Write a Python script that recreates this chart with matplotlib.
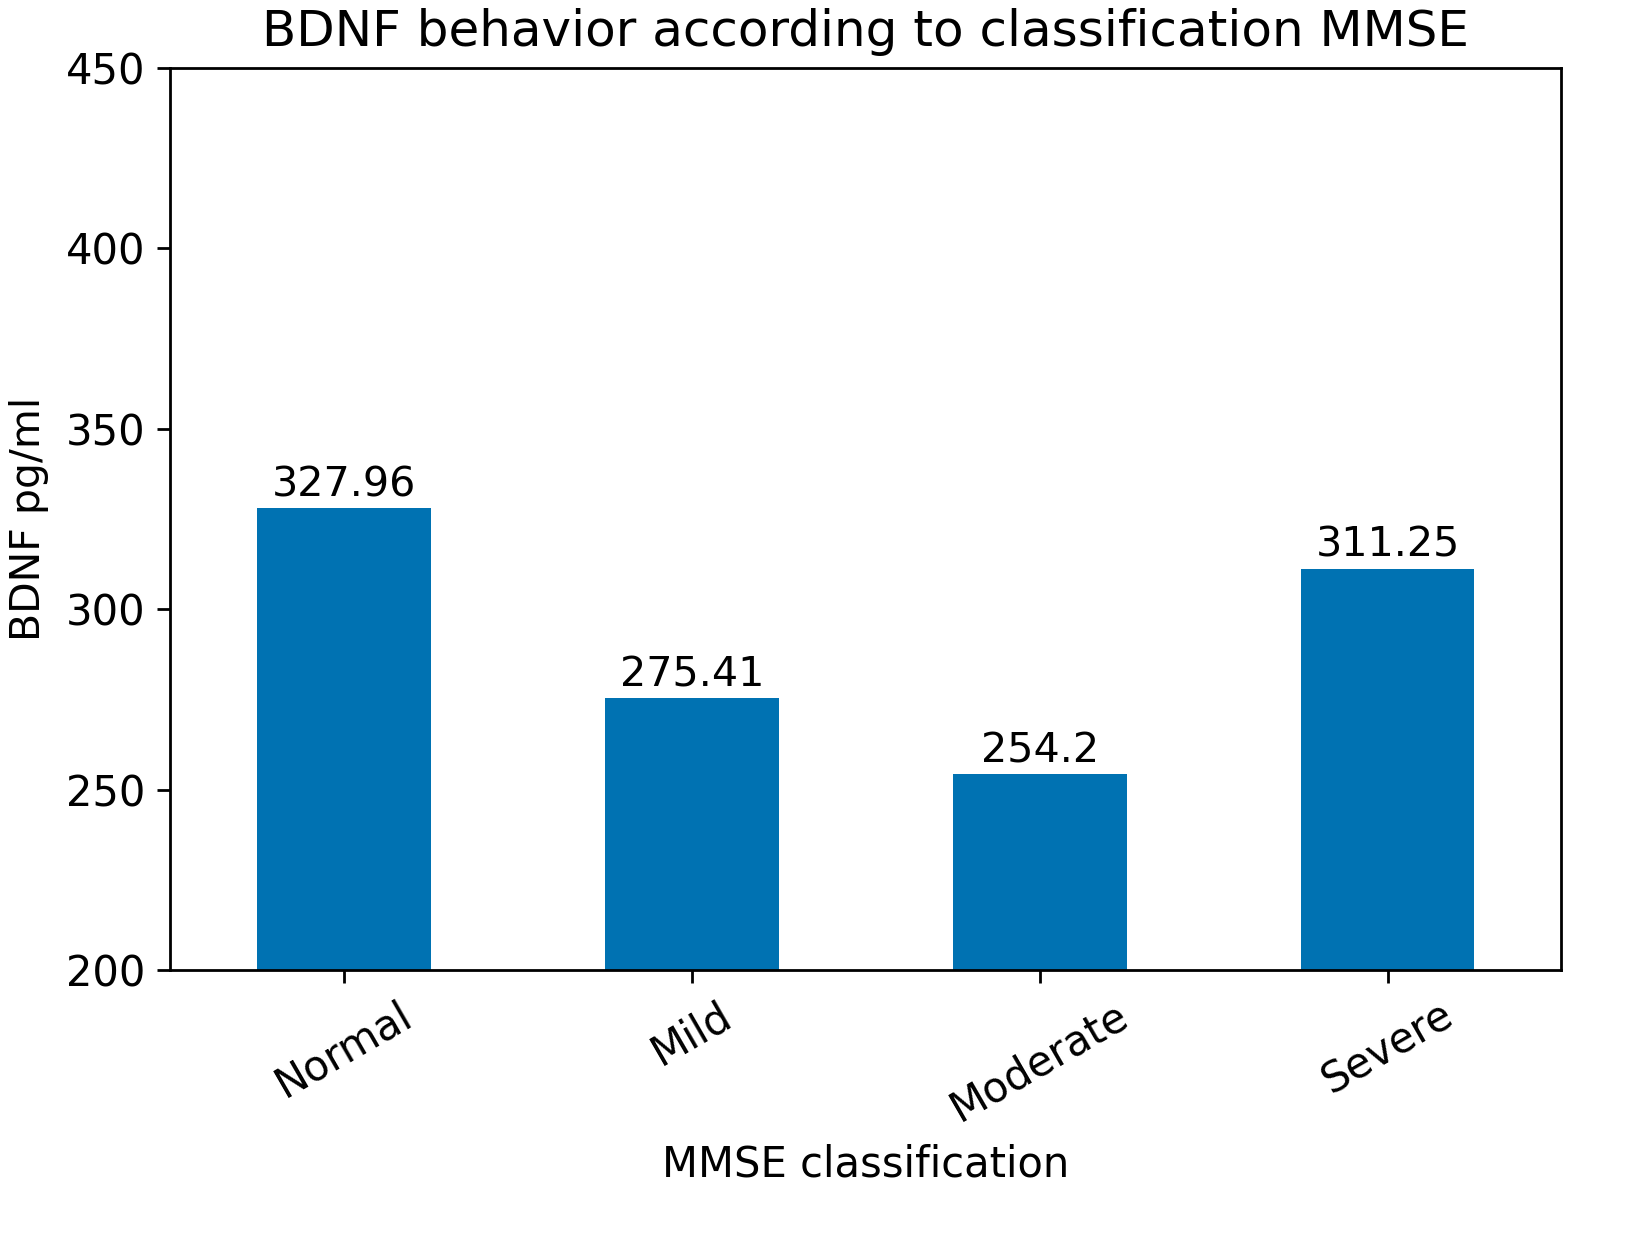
import matplotlib
matplotlib.use("Agg")
import matplotlib.pyplot as plt

categories = ["Normal", "Mild", "Moderate", "Severe"]
values = [327.96, 275.41, 254.2, 311.25]
value_labels = ["327.96", "275.41", "254.2", "311.25"]
yticks = [200, 250, 300, 350, 400, 450]

fig = plt.figure(figsize=(16.35, 12.38), dpi=100)
ax = fig.add_axes([0.104, 0.2165, 0.851, 0.7285])

x = list(range(len(categories)))
bars = ax.bar(x, values, width=0.5, color="#0072B2")
ax.bar_label(bars, labels=value_labels, fontsize=29.7, padding=2)

ax.set_xlim(-0.5, 3.5)
ax.set_ylim(200, 450)
ax.set_yticks(yticks)
ax.set_xticks(x)
ax.set_xticklabels(categories, rotation=30, ha="center")
ax.tick_params(labelsize=30, length=9.5, width=2.0, pad=8)
for s in ax.spines.values():
    s.set_linewidth(2.0)

ax.set_title("BDNF behavior according to classification MMSE", fontsize=36, pad=16)
ax.set_xlabel("MMSE classification", fontsize=30, labelpad=10)
ax.set_ylabel("BDNF pg/ml", fontsize=29.5, labelpad=12)

fig.savefig("out.png", dpi=100)
